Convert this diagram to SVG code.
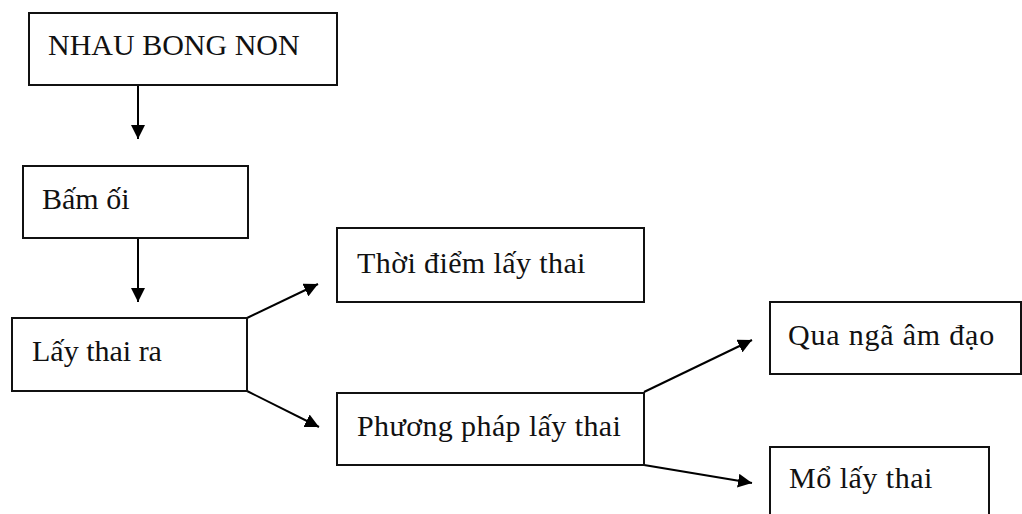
<svg xmlns="http://www.w3.org/2000/svg" width="1022" height="514" viewBox="0 0 1022 514">
<defs>
<marker id="ah" viewBox="0 0 14 14" refX="14" refY="7" markerWidth="14" markerHeight="14" markerUnits="userSpaceOnUse" orient="auto">
<path d="M0,0 L14,7 L0,14 Z" fill="#000"/>
</marker>
<style>
.box{fill:#fff;stroke:#111;stroke-width:2}
.t{font-family:"Liberation Serif","Times New Roman",serif;font-size:30px;fill:#111}
.c{stroke:#000;stroke-width:2;fill:none;marker-end:url(#ah)}
</style>
</defs>
<rect width="1022" height="514" fill="#fff"/>
<g id="connectors">
<line class="c" x1="138" y1="85" x2="138" y2="139"/>
<line class="c" x1="138" y1="238" x2="138" y2="302"/>
<line class="c" x1="247" y1="318" x2="318" y2="284"/>
<line class="c" x1="247" y1="391" x2="319" y2="427"/>
<line class="c" x1="644" y1="392" x2="752" y2="340"/>
<line class="c" x1="644" y1="465" x2="752" y2="483"/>
</g>
<g id="n1"><rect class="box" x="29" y="13" width="308" height="72"/><text class="t" x="48" y="55">NHAU BONG NON</text></g>
<g id="n2"><rect class="box" x="23" y="166" width="225" height="72"/><text class="t" x="42" y="209">Bấm ối</text></g>
<g id="n3"><rect class="box" x="337" y="228" width="307" height="74"/><text class="t" x="357" y="273" letter-spacing="0.4">Thời điểm lấy thai</text></g>
<g id="n4"><rect class="box" x="12" y="318" width="235" height="73"/><text class="t" x="32" y="361">Lấy thai ra</text></g>
<g id="n5"><rect class="box" x="337" y="393" width="307" height="72"/><text class="t" x="357" y="436" letter-spacing="0.4">Phương pháp lấy thai</text></g>
<g id="n6"><rect class="box" x="770" y="302" width="251" height="72"/><text class="t" x="788" y="345" letter-spacing="0.8">Qua ngã âm đạo</text></g>
<g id="n7"><rect class="box" x="770" y="447" width="219" height="80"/><text class="t" x="789" y="488" letter-spacing="0.5">Mổ lấy thai</text></g>
</svg>
